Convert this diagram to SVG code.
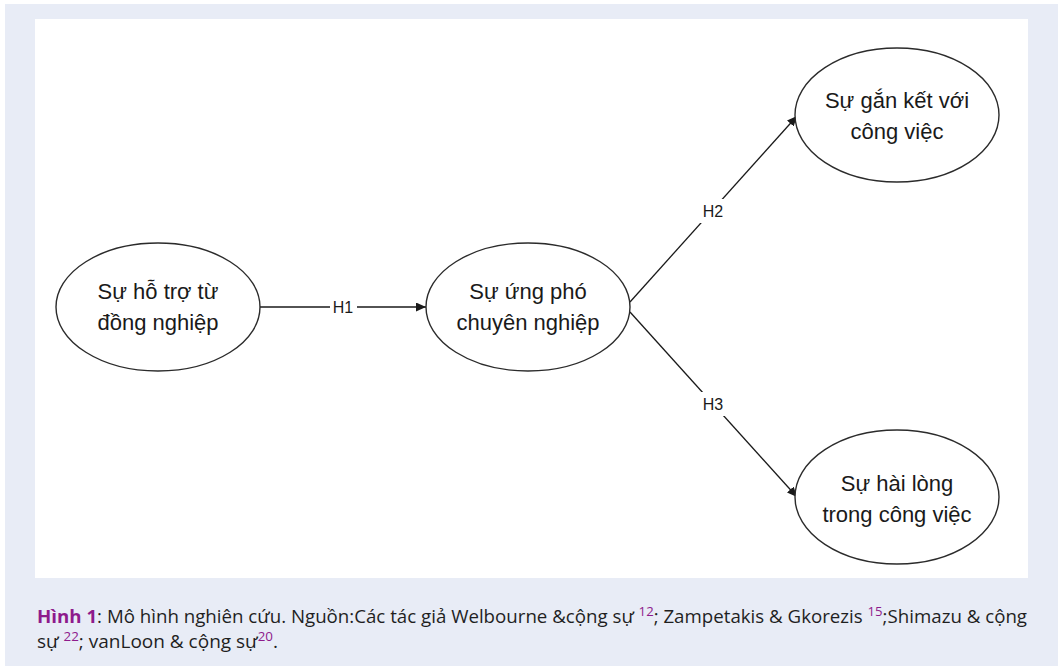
<svg xmlns="http://www.w3.org/2000/svg" width="1058" height="666" viewBox="0 0 1058 666">
  <defs>
    <style>
      .node ellipse { fill: #ffffff; stroke: #2b2b2b; stroke-width: 1.4; }
      .node text { font-family: "Liberation Sans", Arial, sans-serif; font-size: 22px; fill: #1a1a1a; text-anchor: middle; }
      .conn { fill: none; stroke: #1a1a1a; stroke-width: 1.3; marker-end: url(#arrow); }
      .lbl-bg { fill: #ffffff; }
      .lbl { font-family: "Liberation Sans", Arial, sans-serif; font-size: 16px; fill: #1a1a1a; text-anchor: middle; dominant-baseline: central; }
      .cap { font-family: "Open Sans", "Liberation Sans", sans-serif; font-size: 18.5px; fill: #1f1f1f; }
      .cap .fig { fill: #8e1b8c; font-weight: bold; }
      .cap .sup { fill: #8e1b8c; font-size: 13px; }
    </style>
    <marker id="arrow" markerUnits="userSpaceOnUse" markerWidth="11" markerHeight="9" refX="10" refY="4.5" orient="auto">
      <path d="M0,0 L10,4.5 L0,9 z" fill="#1a1a1a"/>
    </marker>
  </defs>

  <rect x="5" y="4" width="1053" height="662" fill="#e8ecf6"/>
  <rect x="35" y="19" width="993" height="559" fill="#ffffff"/>

  <g id="connectors">
    <path class="conn" d="M260,307 L426,307"/>
    <rect class="lbl-bg" x="330" y="299" width="27" height="16"/>
    <text class="lbl" x="343" y="307">H1</text>

    <path class="conn" d="M630,302 L797,116"/>
    <rect class="lbl-bg" x="699" y="199" width="28" height="24"/>
    <text class="lbl" x="713" y="211">H2</text>

    <path class="conn" d="M630,312 L797,497"/>
    <rect class="lbl-bg" x="699" y="392" width="28" height="24"/>
    <text class="lbl" x="713" y="404">H3</text>
  </g>

  <g id="node-ho-tro" class="node">
    <ellipse cx="158" cy="307" rx="102" ry="64"/>
    <text x="158" y="299">Sự hỗ trợ từ</text>
    <text x="158" y="330">đồng nghiệp</text>
  </g>

  <g id="node-ung-pho" class="node">
    <ellipse cx="528" cy="307" rx="102" ry="64"/>
    <text x="528" y="299">Sự ứng phó</text>
    <text x="528" y="330">chuyên nghiệp</text>
  </g>

  <g id="node-gan-ket" class="node">
    <ellipse cx="897" cy="115" rx="102" ry="67"/>
    <text x="897" y="108">Sự gắn kết với</text>
    <text x="897" y="139">công việc</text>
  </g>

  <g id="node-hai-long" class="node">
    <ellipse cx="897" cy="497" rx="102" ry="67"/>
    <text x="897" y="491">Sự hài lòng</text>
    <text x="897" y="522">trong công việc</text>
  </g>

  <text class="cap" x="37" y="623" textLength="990" lengthAdjust="spacingAndGlyphs"><tspan class="fig">Hình 1</tspan>: Mô hình nghiên cứu. Nguồn:Các tác giả Welbourne &amp;cộng sự <tspan class="sup" dy="-7">12</tspan><tspan dy="7">; Zampetakis &amp; Gkorezis </tspan><tspan class="sup" dy="-7">15</tspan><tspan dy="7">;Shimazu &amp; cộng</tspan></text>
  <text class="cap" x="37" y="648" textLength="241" lengthAdjust="spacingAndGlyphs">sự <tspan class="sup" dy="-7">22</tspan><tspan dy="7">; vanLoon &amp; cộng sự</tspan><tspan class="sup" dy="-7">20</tspan><tspan dy="7">.</tspan></text>
</svg>
